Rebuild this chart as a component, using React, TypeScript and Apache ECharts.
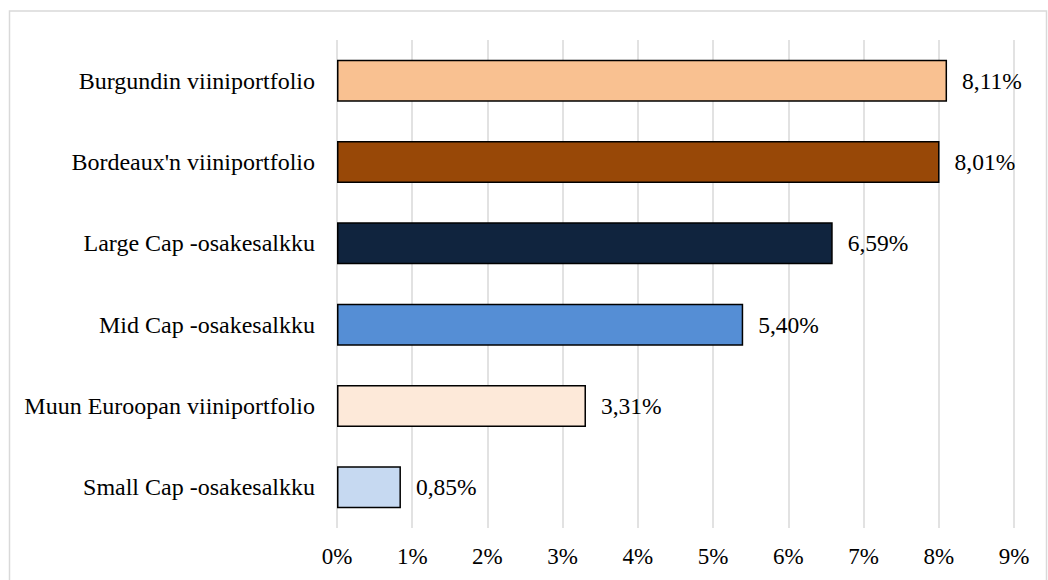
import React, { useEffect, useRef } from "react";
import * as echarts from "echarts";

const categories = [
  "Small Cap -osakesalkku",
  "Muun Euroopan viiniportfolio",
  "Mid Cap -osakesalkku",
  "Large Cap -osakesalkku",
  "Bordeaux'n viiniportfolio",
  "Burgundin viiniportfolio",
];
const values = [0.85, 3.31, 5.4, 6.59, 8.01, 8.11];
const colors = ["#C6D9F1", "#FDE9D9", "#558ED5", "#10243E", "#984807", "#F9C191"];
const tickMax = 9;

const FONT = "'Liberation Serif', 'Times New Roman', serif";

export default function App() {
  const ref = useRef<HTMLDivElement>(null);
  useEffect(() => {
    document.body.style.overflow = "hidden";
    const chart = echarts.init(ref.current!, null, { renderer: "svg" });
    chart.setOption({
      animation: false,
      backgroundColor: "#ffffff",
      graphic: [
        {
          type: "rect",
          shape: { x: 9.5, y: 11, width: 1037, height: 620 },
          style: { fill: "none", stroke: "#d9d9d9", lineWidth: 1.5 },
          silent: true,
          z: -1,
        },
      ],
      grid: { left: 337, right: 34, top: 40, bottom: 52 },
      xAxis: {
        type: "value",
        min: 0,
        max: tickMax,
        interval: 1,
        axisLine: { show: false },
        axisTick: { show: false },
        splitLine: { show: true, lineStyle: { color: "#d9d9d9", width: 1.5 } },
        axisLabel: {
          color: "#000",
          fontFamily: FONT,
          fontSize: 23,
          margin: 17,
          formatter: (v: number) => `${v}%`,
        },
      },
      yAxis: {
        type: "category",
        data: categories,
        axisLine: { show: false },
        axisTick: { show: false },
        axisLabel: { color: "#000", fontFamily: FONT, fontSize: 24, margin: 22 },
      },
      series: [
        {
          type: "bar",
          barWidth: 42,
          data: values.map((v, i) => ({
            value: v,
            itemStyle: { color: colors[i], borderColor: "#000", borderWidth: 1.5 },
          })),
          label: {
            show: true,
            position: "right",
            distance: 15,
            color: "#000",
            fontFamily: FONT,
            fontSize: 23.5,
            formatter: (p: any) => p.value.toFixed(2).replace(".", ",") + "%",
          },
        },
      ],
    });
    return () => chart.dispose();
  }, []);
  return (
    <div
      ref={ref}
      style={{ position: "fixed", left: 0, top: 0, width: 1048, height: 580 }}
    />
  );
}
